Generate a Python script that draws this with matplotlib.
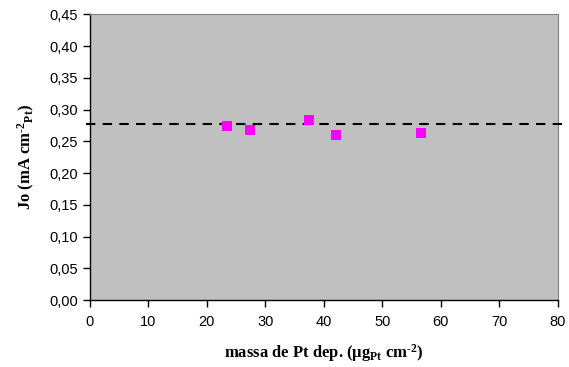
import matplotlib
matplotlib.use('Agg')
import matplotlib.pyplot as plt
from matplotlib.ticker import FuncFormatter

plt.rcParams['mathtext.fontset'] = 'custom'
plt.rcParams['mathtext.rm'] = 'Liberation Serif:bold'
plt.rcParams['mathtext.it'] = 'Liberation Serif:bold'
plt.rcParams['mathtext.bf'] = 'Liberation Serif:bold'

# data
massa_pt = [23.5, 27.4, 37.5, 42.0, 56.6]
jo = [0.274, 0.268, 0.284, 0.260, 0.263]
jo_medio = 0.278
x_ticks = [0, 10, 20, 30, 40, 50, 60, 70, 80]
y_ticks = [0.00, 0.05, 0.10, 0.15, 0.20, 0.25, 0.30, 0.35, 0.40, 0.45]

fig = plt.figure(figsize=(5.69, 3.67), dpi=100)
ax = fig.add_axes([90 / 569, 1 - 300 / 367, (557.7 - 90) / 569, (300 - 14.3) / 367])
ax.set_facecolor('#C0C0C0')

# mean line runs a bit past both axes edges
ax.plot([-0.7, 81.6], [jo_medio, jo_medio], color='black', lw=1.5,
        dashes=(4.5, 3.5), clip_on=False, zorder=3)
ax.plot(massa_pt, jo, 's', color='#FF00FF', markersize=7.2, markeredgewidth=0, zorder=4)

ax.set_xlim(0, 80)
ax.set_ylim(0, 0.45)
ax.set_xticks(x_ticks)
ax.set_yticks(y_ticks)
ax.yaxis.set_major_formatter(FuncFormatter(lambda v, p: f'{v:.2f}'.replace('.', ',')))

for s in ['top', 'right']:
    ax.spines[s].set_color('#808080')
for s in ['left', 'bottom']:
    ax.spines[s].set_color('black')
    ax.spines[s].set_linewidth(1.0)

ax.tick_params(direction='out', length=5, width=1, color='black', labelsize=10.5)
for lab in ax.get_xticklabels() + ax.get_yticklabels():
    lab.set_fontfamily('Liberation Sans')
ax.tick_params(axis='x', pad=6)

ax.set_xlabel(r'massa de Pt dep. ($\mu$g$_{\text{Pt}}$ cm$^{\text{-2}}$)',
              fontfamily='Liberation Serif', fontweight='bold', fontsize=12, labelpad=9)
ax.set_ylabel(r'Jo (mA cm$^{\text{-2}}$$_{\text{Pt}}$)',
              fontfamily='Liberation Serif', fontweight='bold', fontsize=12, labelpad=9)

fig.savefig('out.png', dpi=100)
